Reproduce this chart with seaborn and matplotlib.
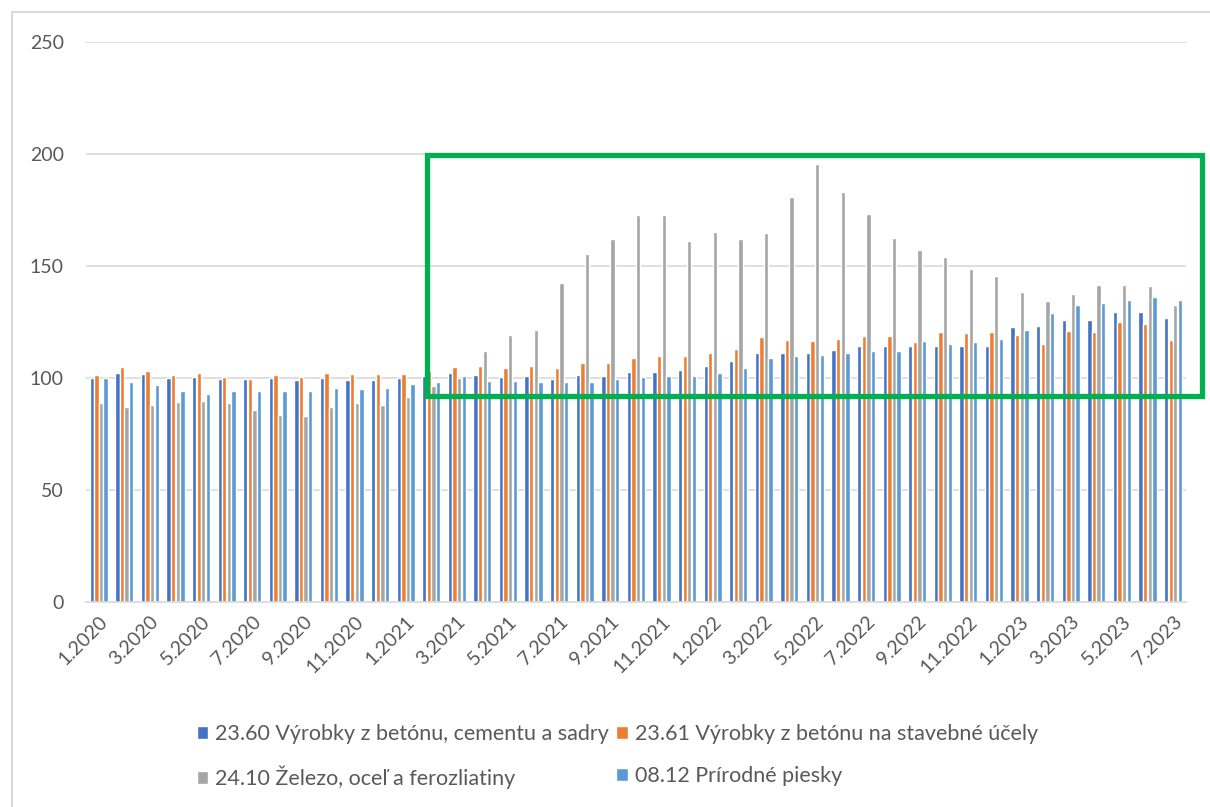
import pandas as pd
import matplotlib.pyplot as plt
import matplotlib.patches as patches
import seaborn as sns

# Months 1.2020 - 7.2023
months = [f"{m}.{y}" for y in range(2020, 2024) for m in range(1, 13)][:43]

series_names = [
    "23.60 Výrobky z betónu, cementu a sadry",
    "23.61 Výrobky z betónu na stavebné účely",
    "24.10 Železo, oceľ a ferozliatiny",
    "08.12 Prírodné piesky",
]

beton_cement = [100.0, 102.4, 101.8, 100.0, 100.6, 99.6, 99.6, 100.0, 99.0, 100.0, 99.0, 99.0,
                100.0, 100.9, 102.1, 101.5, 100.3, 100.9, 99.7, 101.5, 100.9, 102.7, 102.7, 103.7,
                105.5, 107.8, 111.2, 111.2, 111.2, 112.5, 114.2, 114.2, 114.2, 114.2, 114.2, 114.2,
                122.7, 123.3, 126.1, 126.1, 129.6, 129.6, 126.7]
beton_stavebne = [101.3, 104.7, 103.0, 101.2, 102.4, 100.6, 99.6, 101.2, 100.6, 102.4, 101.8, 101.8,
                  101.8, 103.0, 104.9, 105.5, 104.3, 105.5, 104.3, 106.7, 106.7, 109.0, 109.6, 109.6,
                  111.2, 113.0, 118.1, 117.0, 116.4, 117.6, 118.7, 118.7, 116.0, 120.4, 119.9, 120.4,
                  119.3, 115.2, 121.0, 120.4, 125.1, 123.9, 117.0]
zelezo_ocel = [88.7, 87.0, 88.1, 89.3, 89.9, 88.7, 85.8, 83.5, 83.0, 87.0, 88.7, 88.1,
               91.5, 96.3, 100.0, 111.9, 119.3, 121.5, 142.2, 155.4, 162.2, 172.7, 172.7, 161.2,
               165.2, 162.2, 164.6, 180.6, 195.7, 183.1, 173.3, 162.4, 157.3, 153.9, 148.5, 145.7,
               138.4, 134.2, 137.6, 141.7, 141.7, 141.0, 132.5]
piesky = [100.0, 98.0, 96.7, 94.4, 92.7, 94.0, 94.4, 94.4, 94.4, 95.6, 95.0, 95.6,
          97.5, 98.0, 100.9, 98.7, 98.7, 98.0, 98.0, 98.0, 99.7, 100.3, 100.9, 100.9,
          102.1, 104.3, 109.0, 109.6, 110.1, 111.2, 111.9, 111.9, 116.4, 115.2, 116.0, 117.6,
          121.6, 129.1, 132.5, 133.6, 134.8, 136.0, 134.8]

colors = ["#4472C4", "#ED7D31", "#A5A5A5", "#5B9BD5"]

df = pd.DataFrame({"month": months * 4,
                   "series": sum([[s] * len(months) for s in series_names], []),
                   "value": beton_cement + beton_stavebne + zelezo_ocel + piesky})

sns.set_style("white")
plt.rcParams["font.family"] = ["Lato", "DejaVu Sans"]

fig = plt.figure(figsize=(12.1, 8.07), dpi=100)
ax = fig.add_axes([0.071, 0.254, 0.909, 0.694])

sns.barplot(data=df, x="month", y="value", hue="series", order=months,
            hue_order=series_names, palette=colors, width=0.72, gap=0.06,
            saturation=1, ax=ax)

ax.set_xlim(-0.5, 42.5)
ax.set_ylim(0, 250)
ax.set_yticks(range(0, 251, 50))
ax.grid(axis="y", color="#D9D9D9", linewidth=1.2)
ax.set_axisbelow(True)
for s in ["top", "right", "left"]:
    ax.spines[s].set_visible(False)
ax.spines["bottom"].set_color("#D9D9D9")
ax.spines["bottom"].set_linewidth(1.2)
ax.set_xlabel("")
ax.set_ylabel("")

ax.set_xticks(range(0, 43, 2))
ax.set_xticklabels(months[::2], rotation=45, ha="right", rotation_mode="anchor")
ax.tick_params(axis="both", length=0, labelsize=14, labelcolor="#595959")
ax.tick_params(axis="y", pad=16)
ax.tick_params(axis="x", pad=8)

# legend: two rows, two columns
handles, labels = ax.get_legend_handles_labels()
ax.get_legend().remove()
order = [0, 2, 1, 3]
fig.legend([handles[i] for i in order], [labels[i] for i in order],
           loc="center", bbox_to_anchor=(0.51, 0.062), ncol=2, frameon=False,
           fontsize=15.5, labelcolor="#595959", handlelength=0.55, handleheight=0.55,
           handletextpad=0.3, columnspacing=0.35, labelspacing=1.0)

# outer chart border
fig.patches.append(patches.Rectangle((0.01, -0.05), 1.1, 1.035, transform=fig.transFigure,
                                     fill=False, edgecolor="#D9D9D9", linewidth=1.5))

# green highlight box
fig.patches.append(patches.Rectangle((0.353, 0.509), 0.640, 0.299, transform=fig.transFigure,
                                     fill=False, edgecolor="#00B050", linewidth=3.8, zorder=10))

plt.savefig("out.png", dpi=100)
